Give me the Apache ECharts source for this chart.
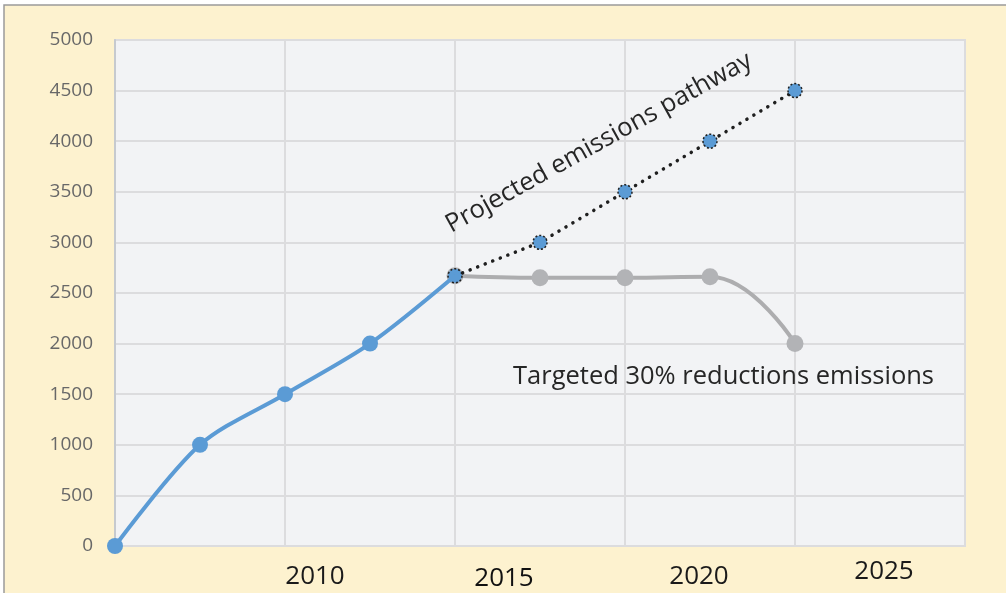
<!DOCTYPE html>
<html>
<head>
<meta charset="utf-8">
<script src="https://cdn.jsdelivr.net/npm/echarts@6/dist/echarts.min.js"></script>
<style>
  html, body { margin: 0; padding: 0; background: #ffffff; }
  #chart { width: 1006px; height: 593px; }
</style>
</head>
<body>
<div id="chart"></div>
<script>
// years on the x axis, emission values on y
const histYears = [2005, 2007.5, 2010, 2012.5, 2015];
const histValues = [0, 1000, 1500, 2000, 2670];
const targetYears = [2015, 2017.5, 2020, 2022.5, 2025];
const targetValues = [2670, 2650, 2650, 2660, 2000];
const projYears = [2015, 2017.5, 2020, 2022.5, 2025];
const projValues = [2670, 3000, 3500, 4000, 4500];
const xTickLabels = ["2010", "2015", "2020", "2025"];

const pairs = (xs, ys) => xs.map((x, i) => [x, ys[i]]);

const labelFont = "26px 'Open Sans'";

const chart = echarts.init(document.getElementById("chart"));
chart.setOption({
  animation: false,
  backgroundColor: "#ffffff",
  grid: {
    left: 115,
    right: 41,
    top: 40,
    bottom: 47,
    show: true,
    backgroundColor: "#F2F3F5",
    borderColor: "#DCDCDE",
    borderWidth: 2,
  },
  xAxis: {
    type: "value",
    min: 2005,
    max: 2030,
    interval: 5,
    axisLine: { show: false },
    axisTick: { show: false },
    axisLabel: { show: false },
    splitLine: { show: true, lineStyle: { color: "#DCDCDE", width: 2 } },
  },
  yAxis: {
    type: "value",
    min: 0,
    max: 5000,
    interval: 500,
    axisLine: { show: true, lineStyle: { color: "#C6CACF", width: 2 } },
    axisTick: { show: false },
    axisLabel: {
      color: "#686868",
      fontSize: 19,
      fontFamily: "Open Sans",
      margin: 22,
      formatter: (v) => String(v),
    },
    splitLine: { show: true, lineStyle: { color: "#DCDCDE", width: 2 } },
  },
  graphic: [
    // outer frame of the figure
    {
      type: "rect",
      z: -10,
      shape: { x: 4, y: 5, width: 1010, height: 600 },
      style: { fill: "#FDF2CF", stroke: "#9A9A9A", lineWidth: 1.5 },
    },
    {
      type: "text",
      z: 100,
      x: 513,
      y: 364,
      style: {
        text: "Targeted 30% reductions emissions",
        fill: "#262626",
        font: "25.5px 'Open Sans'",
      },
    },
    {
      type: "text",
      z: 100,
      x: 454,
      y: 238,
      rotation: (29 * Math.PI) / 180,
      style: {
        text: "Projected emissions pathway",
        fill: "#262626",
        font: "25.5px 'Open Sans'",
        verticalAlign: "bottom",
      },
    },
    {
      type: "text", z: 100, x: 315, y: 564,
      style: { text: xTickLabels[0], fill: "#1a1a1a", font: labelFont, align: "center", verticalAlign: "top" },
    },
    {
      type: "text", z: 100, x: 504, y: 566,
      style: { text: xTickLabels[1], fill: "#111111", font: labelFont, align: "center", verticalAlign: "top" },
    },
    {
      type: "text", z: 100, x: 699, y: 564,
      style: { text: xTickLabels[2], fill: "#1a1a1a", font: labelFont, align: "center", verticalAlign: "top" },
    },
    {
      type: "text", z: 100, x: 884, y: 559,
      style: { text: xTickLabels[3], fill: "#1a1a1a", font: labelFont, align: "center", verticalAlign: "top" },
    },
  ],
  series: [
    {
      name: "Targeted",
      type: "line",
      smooth: 0.45,
      data: pairs(targetYears, targetValues),
      symbol: "circle",
      symbolSize: 17,
      lineStyle: { color: "#ADADAF", width: 4 },
      itemStyle: { color: "#B2B3B6" },
      z: 2,
    },
    {
      name: "Projected",
      type: "line",
      data: pairs(projYears, projValues),
      symbol: "circle",
      symbolSize: 14,
      showSymbol: true,
      lineStyle: { color: "#1f1f1f", width: 3.5, type: [0.1, 8], cap: "round" },
      itemStyle: {
        color: "#5B9BD5",
        borderColor: "#1f1f1f",
        borderWidth: 1.5,
        borderType: [2, 2],
      },
      z: 3,
    },
    {
      name: "Historic",
      type: "line",
      smooth: 0.3,
      data: pairs(histYears, histValues).map((p, i) =>
        // the grey point covers the last blue one
        i === histYears.length - 1 ? { value: p, symbolSize: 0 } : p),
      symbol: "circle",
      symbolSize: 16,
      lineStyle: { color: "#5B9BD5", width: 4 },
      itemStyle: { color: "#5B9BD5" },
      z: 4,
    },
  ],
});
window.onresize = () => chart.resize();
</script>
</body>
</html>
